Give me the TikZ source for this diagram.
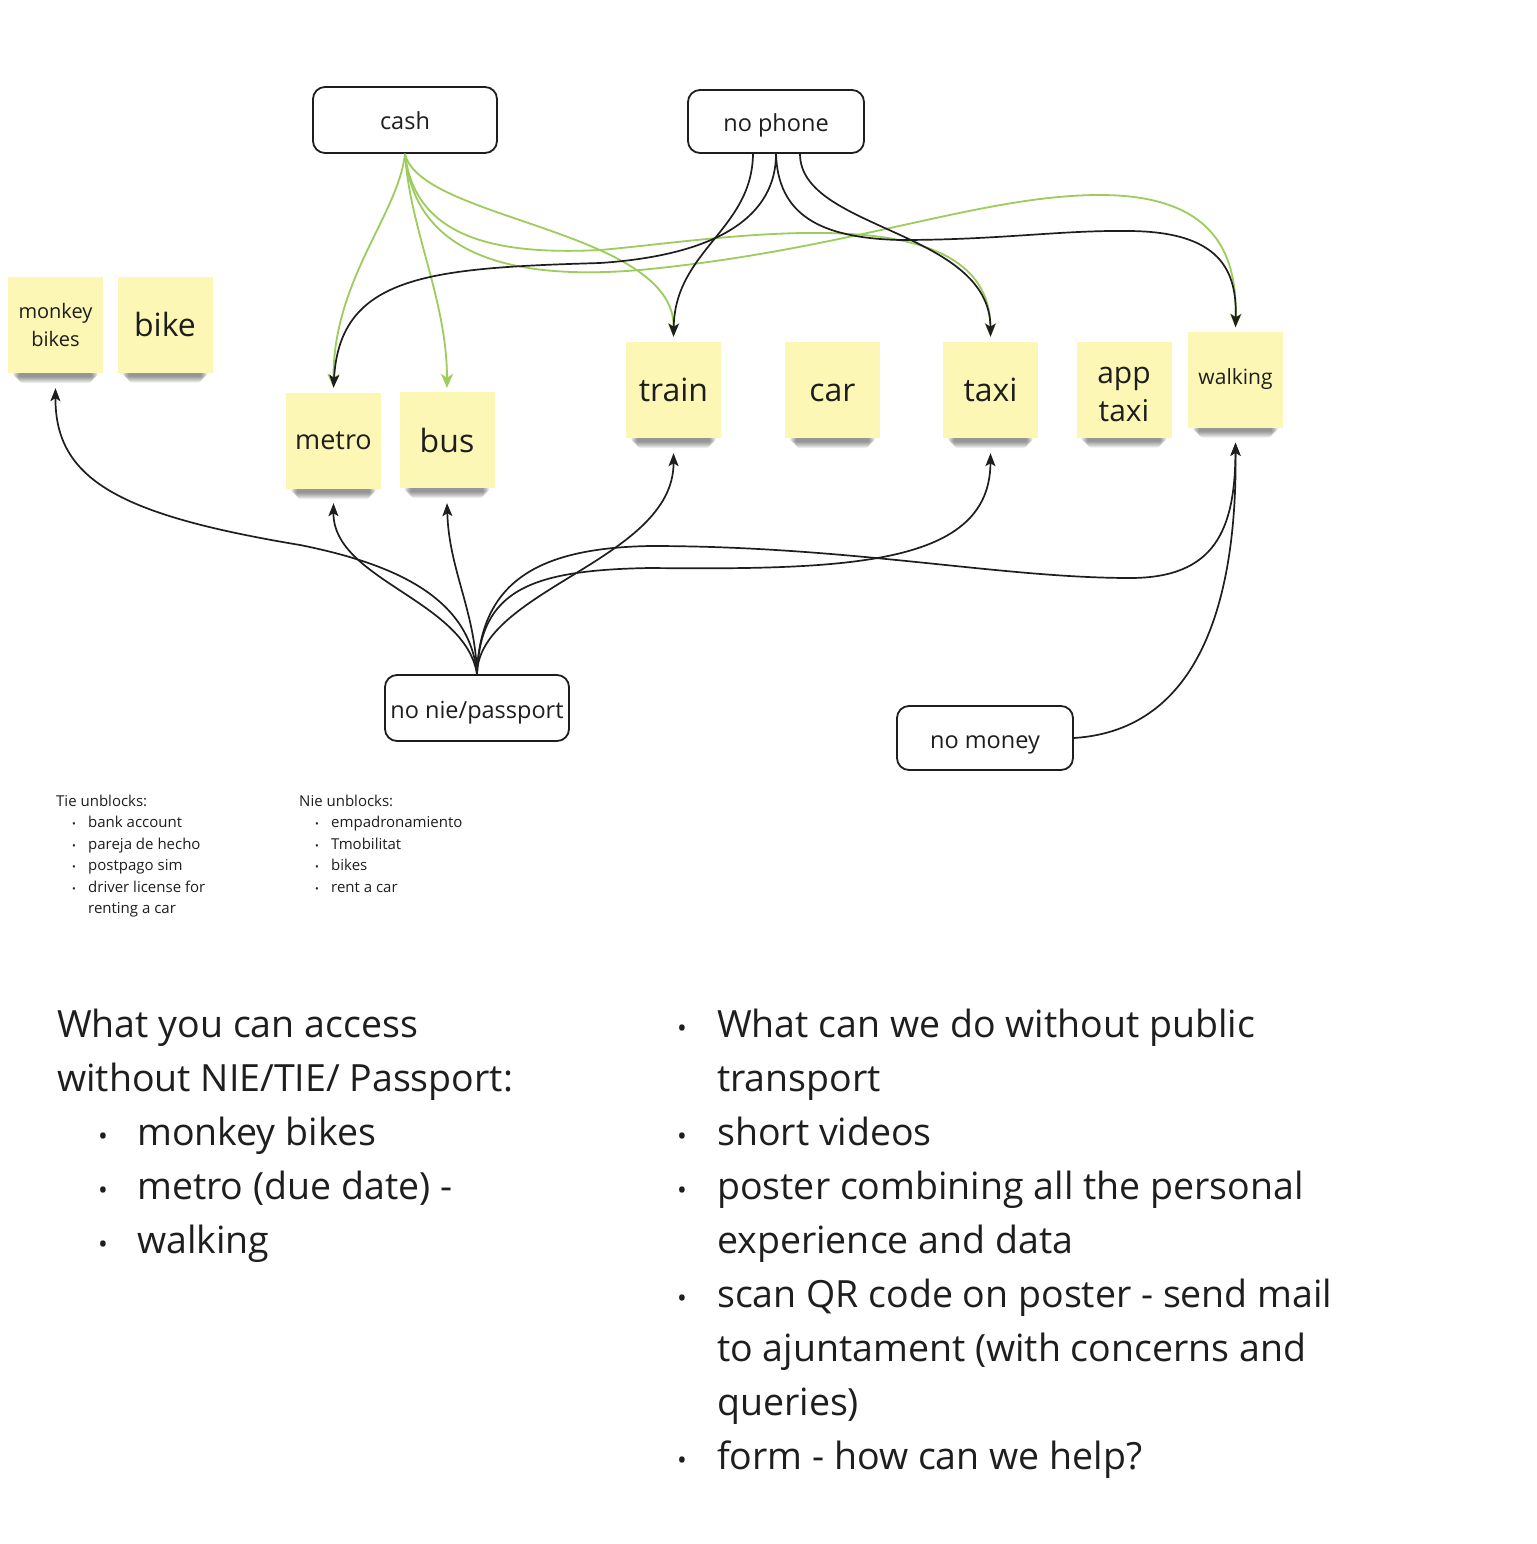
\documentclass[tikz,border=0pt]{standalone}
\usepackage{fontspec}
\setmainfont{Open Sans}
\usetikzlibrary{arrows.meta}
\definecolor{stickyc}{RGB}{252,247,180}
\definecolor{grn}{RGB}{155,204,92}
\definecolor{ink}{RGB}{30,30,30}
\newcommand{\fs}[2]{\fontsize{#1pt}{#2pt}\selectfont}
\pgfdeclarelayer{bottomlayer}
\pgfdeclarelayer{shadowlayer}
\pgfsetlayers{bottomlayer,shadowlayer,main}
\newcommand{\stickyshadow}[1]{%
  \begin{pgfonlayer}{shadowlayer}
  \foreach \ix/\dy in {11/10,10/9,9/8,8/7,7/6,6/5,5/4}{%
    \fill[black, opacity=0.07, rounded corners=4pt] ([xshift=\ix pt,yshift=2pt]#1.south west) rectangle ([xshift=-\ix pt,yshift=-\dy pt]#1.south east);}
  \end{pgfonlayer}}
\begin{document}
\begin{tikzpicture}[x=1pt,y=-1pt,
  every node/.style={text=ink},
  box/.style={draw=ink, line width=1.8pt, rounded corners=12pt, inner sep=0pt, font=\fs{23.5}{28}, text height=24pt, text depth=4pt},
  sticky/.style={fill=stickyc, minimum width=95pt, minimum height=96pt, inner sep=0pt, align=center},
  blk/.style={draw=ink, line width=1.7pt, -{Stealth[length=13pt,width=10pt,inset=3pt]}},
  grnarr/.style={draw=grn, line width=1.8pt, -{Stealth[length=14pt,width=12pt,inset=4pt]}},
  big/.style={anchor=base west, inner sep=0pt, font=\fs{37.5}{44}},
  bigdot/.style={anchor=base, inner sep=0pt, font=\fs{26}{30}},
  small/.style={anchor=base west, inner sep=0pt, font=\fs{15}{18}},
  smalldot/.style={anchor=base, inner sep=0pt, font=\fs{10}{12}}
]
\begin{pgfonlayer}{bottomlayer}
\fill[white] (0,0) rectangle (1536,1544);
\end{pgfonlayer}
\useasboundingbox (0,0) rectangle (1536,1544);

% problem boxes
\node[box, minimum width=184pt, minimum height=66pt] (cash) at (405,120) {cash};
\node[box, minimum width=176pt, minimum height=63pt] (phone) at (776,121.5) {no phone};
\node[box, minimum width=184pt, minimum height=66pt] (nie) at (477,708) {no nie/passport};
\node[box, minimum width=176pt, minimum height=64pt] (money) at (985,738) {no money};

% sticky notes
\node[sticky, font=\fs{20}{28}] (monkey) at (55.5,325) {monkey\\bikes};
\node[sticky, font=\fs{32}{38}] (bike) at (165,324.5) {bike};
\node[sticky, font=\fs{27}{32}] (metro) at (333.5,441) {metro};
\node[sticky, font=\fs{32}{38}] (bus) at (447,440) {bus};
\node[sticky, font=\fs{32}{38}] (train) at (673.5,390) {train};
\node[sticky, font=\fs{32}{38}, text height=22pt, text depth=0pt] (car) at (832.5,390) {car};
\node[sticky, font=\fs{32}{38}] (taxi) at (990.5,390) {taxi};
\node[sticky, font=\fs{30}{38}] (apptaxi) at (1124,389.5) {\rule{0pt}{26pt}app\\taxi};
\node[sticky, font=\fs{21}{26}] (walking) at (1235.5,379.5) {walking};
\stickyshadow{monkey}
\stickyshadow{bike}
\stickyshadow{metro}
\stickyshadow{bus}
\stickyshadow{train}
\stickyshadow{car}
\stickyshadow{taxi}
\stickyshadow{apptaxi}
\stickyshadow{walking}

% green arrows from cash
\draw[grnarr] (cash.south) .. controls (398,215) and (333,280) .. ([yshift=5pt]metro.north);
\draw[grnarr] (cash.south) .. controls (410,230) and (447,300) .. ([yshift=4pt]bus.north);
\draw[grnarr] (cash.south) .. controls (420,220) and (675,230) .. ([yshift=5pt]train.north);
\draw[grnarr] (cash.south) .. controls (415,240) and (500,255) .. (600,250)
   .. controls (720,240) and (990,190) .. ([yshift=5pt]taxi.north);
\draw[grnarr] (cash.south) .. controls (415,260) and (520,280) .. (640,270)
   .. controls (850,250) and (980,195) .. (1100,195)
   .. controls (1220,195) and (1237,260) .. ([yshift=4pt]walking.north);

% black arrows from no phone
\draw[blk] ([xshift=-23pt]phone.south) .. controls (752,230) and (675,250) .. ([yshift=5pt]train.north);
\draw[blk] (phone.south) .. controls (776,215) and (720,255) .. (600,263)
   .. controls (430,268) and (340,275) .. ([yshift=5pt]metro.north);
\draw[blk] (phone.south) .. controls (778,215) and (820,238) .. (900,240)
   .. controls (1000,240) and (1060,230) .. (1130,231)
   .. controls (1220,232) and (1237,270) .. ([yshift=4pt]walking.north);
\draw[blk] ([xshift=24pt]phone.south) .. controls (800,230) and (990,230) .. ([yshift=5pt]taxi.north);

% black arrows from no nie/passport
\draw[blk] (nie.north) .. controls (470,600) and (400,565) .. (300,545)
   .. controls (120,515) and (55,480) .. ([yshift=-15pt]monkey.south);
\draw[blk] (nie.north) .. controls (465,600) and (333,580) .. ([yshift=-14pt]metro.south);
\draw[blk] (nie.north) .. controls (475,610) and (449,570) .. ([yshift=-15pt]bus.south);
\draw[blk] (nie.north) .. controls (478,590) and (674,560) .. ([yshift=-15pt]train.south);
\draw[blk] (nie.north) .. controls (480,590) and (530,570) .. (650,568)
   .. controls (850,570) and (990,565) .. ([yshift=-15pt]taxi.south);
\draw[blk] (nie.north) .. controls (480,580) and (540,548) .. (650,546)
   .. controls (850,546) and (1000,578) .. (1130,578)
   .. controls (1215,578) and (1235,530) .. ([yshift=-15pt]walking.south);

% no money
\draw[blk] (money.east) .. controls (1200,730) and (1237,600) .. ([yshift=-15pt]walking.south);

% small notes
\node[small] (tie) at (56,806) {Tie unblocks:};
\node[smalldot] (td1) at (74,827.5) {•};
\node[small] (t1) at (88,827.5) {bank account};
\node[smalldot] (td2) at (74,849) {•};
\node[small] (t2) at (88,849) {pareja de hecho};
\node[smalldot] (td3) at (74,870.5) {•};
\node[small] (t3) at (88,870.5) {postpago sim};
\node[smalldot] (td4) at (74,892) {•};
\node[small] (t4) at (88,892) {driver license for};
\node[small] (t5) at (88,913.5) {renting a car};

\node[small] (nieu) at (299,806) {Nie unblocks:};
\node[smalldot] (nd1) at (317,827.5) {•};
\node[small] (n1) at (331,827.5) {empadronamiento};
\node[smalldot] (nd2) at (317,849) {•};
\node[small] (n2) at (331,849) {Tmobilitat};
\node[smalldot] (nd3) at (317,870.5) {•};
\node[small] (n3) at (331,870.5) {bikes};
\node[smalldot] (nd4) at (317,892) {•};
\node[small] (n4) at (331,892) {rent a car};

% big left text
\node[big] (L1) at (57,1037) {What you can access};
\node[big] (L2) at (57,1091) {without NIE/TIE/ Passport:};
\node[bigdot] (Ld1) at (103,1145) {•};
\node[big] (L3) at (137,1145) {monkey bikes};
\node[bigdot] (Ld2) at (103,1199) {•};
\node[big] (L4) at (137,1199) {metro (due date) -};
\node[bigdot] (Ld3) at (103,1253) {•};
\node[big] (L5) at (137,1253) {walking};

% big right text
\node[bigdot] (Rd1) at (682,1037) {•};
\node[big] (R1) at (717,1037) {What can we do without public};
\node[big] (R2) at (717,1091) {transport};
\node[bigdot] (Rd2) at (682,1145) {•};
\node[big] (R3) at (717,1145) {short videos};
\node[bigdot] (Rd3) at (682,1199) {•};
\node[big] (R4) at (717,1199) {poster combining all the personal};
\node[big] (R5) at (717,1253) {experience and data};
\node[bigdot] (Rd4) at (682,1307) {•};
\node[big] (R6) at (717,1307) {scan QR code on poster - send mail};
\node[big] (R7) at (717,1361) {to ajuntament (with concerns and};
\node[big] (R8) at (717,1415) {queries)};
\node[bigdot] (Rd5) at (682,1469) {•};
\node[big] (R9) at (717,1469) {form - how can we help?};
\end{tikzpicture}
\end{document}
